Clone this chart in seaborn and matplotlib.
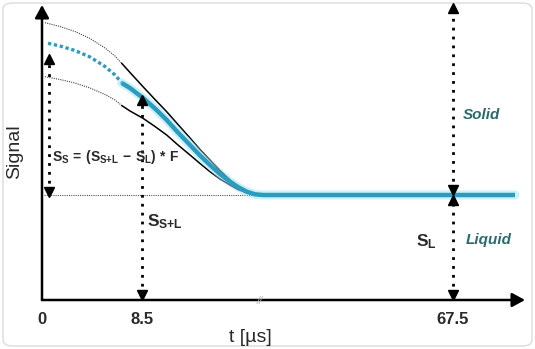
import matplotlib
matplotlib.use("Agg")
import matplotlib.pyplot as plt
from matplotlib.patches import FancyBboxPatch
import numpy as np
import pandas as pd
import seaborn as sns

# Schematic units: x runs along the time axis (axis break after the decay),
# y is the signal height above the time axis.
tick_pos = [0, 100, 411]
tick_labels = ["0", "8.5", "67.5"]

upper_dot_x = [3, 18, 33, 48, 63, 73, 79.7]
upper_dot_y = [277.3, 273.5, 268.5, 261.5, 252, 244, 236.7]
upper_x = [79.7, 88, 101, 113, 124.7, 136, 148, 158, 168, 178, 188, 196,
           204.7, 211, 218]
upper_y = [236.7, 227.5, 213.3, 200.5, 188.3, 175.5, 162, 150.5, 140, 129.5,
           120, 113.5, 108.3, 106, 105]

fid_dot_x = [6, 18, 33, 48, 63, 73, 80]
fid_dot_y = [256.7, 254, 249.5, 243, 233.5, 225, 217]
fid_x = [79.7, 88, 101, 113, 124.7, 136, 148, 158, 168, 178, 188, 196, 204.7,
         213, 221, 473]
fid_y = [217, 212, 202, 191.5, 180, 167.5, 155, 144.5, 135, 126, 118.3, 113,
         108.3, 105.7, 105, 105]

lower_dot_x = [3, 18, 33, 48, 63, 73, 79.7]
lower_dot_y = [223.3, 220.5, 217, 212, 205.5, 200, 194.5]
lower_x = [79.7, 88, 101, 113, 124.7, 136, 148, 158, 168, 178, 188, 196,
           204.7, 213, 220]
lower_y = [194.5, 189, 181.7, 173.5, 165, 155, 145, 136.5, 128.3, 121, 115,
           110.5, 107.3, 105.5, 105]

liquid_level = 105
baseline_x = [2, 220]

CYAN = "#2a9cbf"
HALO = "#9fe3f5"
TEAL = "#2b6b6b"
INK = "#2a2a2a"

sns.set_theme(style="white")
plt.rcParams["font.family"] = ["Liberation Sans", "DejaVu Sans"]
plt.rcParams["mathtext.fontset"] = "custom"
for key in ("bf", "rm", "it", "sf"):
    plt.rcParams["mathtext." + key] = "Liberation Sans:bold"
plt.rcParams["mathtext.default"] = "bf"

W, H = 535, 349
fig = plt.figure(figsize=(W / 100, H / 100), dpi=100)
fig.patch.set_facecolor("white")

# light rounded frame around the whole graphic
frame = FancyBboxPatch((3 / W, 3 / H), (W - 6) / W, (H - 6) / H,
                       boxstyle="round,pad=0,rounding_size=0.018",
                       transform=fig.transFigure, facecolor="none",
                       edgecolor="#dcdcdc", linewidth=1.0, zorder=-5)
fig.patches.append(frame)

ax = fig.add_axes([42 / W, (H - 300) / H, 486 / W, 295 / H])
ax.set_xlim(0, 486)
ax.set_ylim(0, 295)
ax.patch.set_alpha(0)
for s in ax.spines.values():
    s.set_visible(False)

# axes drawn as arrows
arrow_kw = dict(arrowstyle="-|>,head_length=0.55,head_width=0.3",
                color="black", lw=1.8, mutation_scale=14,
                shrinkA=0, shrinkB=0)
ax.annotate("", xy=(483, 0), xytext=(0, 0), arrowprops=arrow_kw,
            annotation_clip=False)
ax.annotate("", xy=(0, 295), xytext=(0, 0), arrowprops=arrow_kw,
            annotation_clip=False)

# liquid baseline
ax.plot(baseline_x, [liquid_level] * 2, color="#555555", lw=0.8,
        linestyle=(0, (1, 1)), zorder=2)

def curve(x, y, **kw):
    d = pd.DataFrame({"t": x, "s": y})
    sns.lineplot(data=d, x="t", y="s", ax=ax, sort=False, estimator=None, **kw)

# envelope curves
curve(upper_dot_x, upper_dot_y, color="#444444", lw=0.8, linestyle=(0, (1, 1)))
curve(lower_dot_x, lower_dot_y, color="#444444", lw=0.8, linestyle=(0, (1, 1)))
curve(upper_x, upper_y, color="black", lw=1.1)
curve(lower_x, lower_y, color="black", lw=1.1)

# FID signal
curve(fid_dot_x, fid_dot_y, color=CYAN, lw=2.4, linestyle=(0, (1, 0.8)))
curve(fid_x, fid_y, color=HALO, lw=6.5, alpha=0.5)
curve(fid_x, fid_y, color=CYAN, lw=3.2, solid_capstyle="butt")

# dotted measurement arrows
def dim(x, y0, y1, up=True, down=True):
    ax.plot([x, x], [y0, y1], color="black", lw=2.0,
            linestyle=(0, (1, 2.2)), clip_on=False, zorder=3)
    if up:
        ax.plot([x], [y1], marker="^", ms=7, color="black", clip_on=False,
                zorder=4)
    if down:
        ax.plot([x], [y0], marker="v", ms=7, color="black", clip_on=False,
                zorder=4)

dim(7, 108, 241)
dim(tick_pos[1], 5, 200)
dim(tick_pos[2], 110, 292)
dim(tick_pos[2], 5, 100)

# axis break mark
ax.text(218, -1, "//", color="#b5b5b5", fontsize=8, ha="center", va="center",
        style="italic")

ax.set_xticks(tick_pos)
ax.set_xticklabels(tick_labels, fontsize=12, fontweight="bold", color=INK)
ax.tick_params(axis="x", length=0, pad=9)
ax.set_yticks([])
ax.set_xlabel("")
ax.set_ylabel("")

ax.text(208, -37, "t [µs]", fontsize=14, ha="center", va="center", color=INK)
fig.text(15 / W, 1 - 152 / H, "Signal", rotation=90, fontsize=14,
         ha="center", va="center", color=INK)

ax.text(10, 143, r"$S_{S}\,=\,(S_{S{+}L}\,-\,S_{L})\,*\,F$", fontsize=10,
        ha="left", va="center", color=INK)
ax.text(105, 78, r"$S_{S{+}L}$", fontsize=12.5, ha="left", va="center",
        color=INK)
ax.text(374, 58, r"$S_{L}$", fontsize=12.5, ha="left", va="center", color=INK)

ax.text(421, 185, "Solid", fontsize=11, fontweight="bold", style="italic",
        ha="left", va="center", color=TEAL)
ax.text(424, 60, "Liquid", fontsize=11, fontweight="bold", style="italic",
        ha="left", va="center", color=TEAL)

fig.savefig("out.png", dpi=100)
